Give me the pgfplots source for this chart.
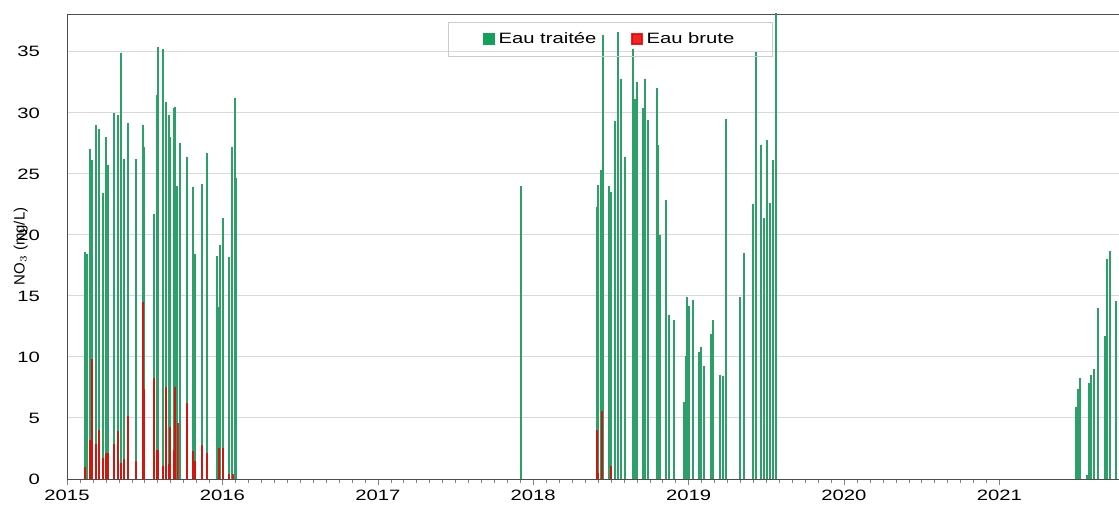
\documentclass[border=0pt]{standalone}
\usepackage{pgfplots}
\pgfplotsset{compat=1.18}
\usepackage{fontspec}
\setmainfont{Liberation Sans}[FakeStretch=1.35]
\newfontfamily\plainfont{Liberation Sans}
\usetikzlibrary{calc}

\definecolor{traitee}{RGB}{20,160,90}
\definecolor{traiteebar}{RGB}{45,160,105}
\definecolor{brute}{RGB}{235,0,0}

\begin{document}
\begin{tikzpicture}
\begin{axis}[
  scale only axis,
  width=526pt, height=232.5pt,
  xmin=2015, xmax=2021.77,
  ymin=0, ymax=38.1,
  axis line style={draw=black!70},
  xtick={2015,2016,2017,2018,2019,2020,2021},
  xticklabels={2015,2016,2017,2018,2019,2020,2021},
  minor x tick num=11,
  xtick pos=lower,
  tick align=outside,
  major tick length=3pt, minor tick length=2pt,
  ytick={0,5,...,35},
  ytick style={draw=none},
  ymajorgrids, grid style={draw=black!15, line width=0.5pt},
  tick label style={font=\fontsize{7.5}{9}\selectfont},
  /pgf/number format/assume math mode=true,
  yticklabel style={xshift=-7pt},
  xticklabel style={yshift=1pt},
  ylabel={\plainfont NO$_3$ (mg/L)},
  ylabel style={font=\fontsize{7.5}{9}\selectfont, at={(axis description cs:-0.044,0.5)}, anchor=center},
  legend columns=2,
  legend style={at={(axis description cs:0.5166,1)}, anchor=north, yshift=-4pt,
    draw=black!20, fill=none, font=\fontsize{7.5}{9}\selectfont,
    inner xsep=17pt, inner ysep=3pt,
    /tikz/every even column/.append style={column sep=15pt}},
]
% Eau traitee
\addplot[ycomb, draw=traiteebar, line width=1pt, mark=none,
  legend image code/.code={\fill[traitee] (0pt,-2.5pt) rectangle (5pt,2.5pt);}]
coordinates {
(2015.113,18.6)(2015.128,18.4)(2015.149,27.0)(2015.162,26.1)(2015.186,29.0)
(2015.207,28.7)(2015.231,23.4)(2015.252,28.0)(2015.267,25.7)(2015.302,30.0)
(2015.325,29.8)(2015.347,34.9)(2015.368,26.2)(2015.392,29.2)(2015.441,26.2)
(2015.492,29.0)(2015.498,27.2)(2015.559,21.7)(2015.578,31.5)(2015.586,35.4)
(2015.617,35.2)(2015.636,30.9)(2015.657,29.8)(2015.666,28.0)(2015.687,30.4)
(2015.698,30.5)(2015.709,24.0)(2015.726,27.5)(2015.775,26.4)(2015.812,23.9)
(2015.826,18.4)(2015.869,24.2)(2015.900,26.7)(2015.964,18.3)(2015.979,14.1)
(2015.987,19.2)(2016.003,21.4)(2016.045,18.2)(2016.060,27.2)(2016.082,31.2)
(2016.088,24.7)
(2017.921,24.0)
(2018.412,22.3)(2018.418,24.1)(2018.437,25.3)(2018.450,36.4)(2018.489,24.0)
(2018.502,23.5)(2018.525,29.3)(2018.549,36.6)(2018.568,32.8)(2018.592,26.4)
(2018.643,35.2)(2018.656,31.1)(2018.665,32.5)(2018.707,30.4)(2018.720,32.8)
(2018.736,29.4)(2018.795,32.0)(2018.804,27.4)(2018.817,20.0)(2018.853,22.9)
(2018.877,13.4)(2018.903,13.0)(2018.971,6.3)(2018.984,10.1)(2018.992,14.9)
(2019.005,14.2)(2019.027,14.7)(2019.066,10.4)(2019.078,10.8)(2019.102,9.3)
(2019.143,11.9)(2019.160,13.0)(2019.203,8.5)(2019.224,8.4)(2019.239,29.5)
(2019.334,14.9)(2019.357,18.5)(2019.415,22.5)(2019.437,35.0)(2019.464,27.4)
(2019.486,21.4)(2019.503,27.8)(2019.522,22.6)(2019.546,26.1)(2019.563,40.0)
(2021.495,5.9)(2021.503,7.4)(2021.518,8.3)(2021.561,0.3)(2021.576,7.9)
(2021.591,8.5)(2021.612,9.0)(2021.636,14.0)(2021.677,11.7)(2021.694,18.0)
(2021.715,18.7)(2021.751,14.6)
};
\addlegendentry{Eau traitée}
% Eau brute
\addplot[ycomb, draw=brute, line width=1pt, mark=none, opacity=0.85,
  legend image code/.code={\fill[brute] (0pt,-2.5pt) rectangle (5pt,2.5pt);}]
coordinates {
(2015.113,1.0)(2015.149,3.2)(2015.162,9.8)(2015.186,2.9)(2015.207,4.0)
(2015.231,1.7)(2015.252,2.1)(2015.267,2.1)(2015.302,2.9)(2015.325,3.9)
(2015.347,1.3)(2015.368,1.6)(2015.392,5.2)(2015.441,1.5)(2015.486,5.5)
(2015.492,14.5)(2015.498,7.4)(2015.559,8.3)(2015.578,2.4)(2015.586,2.4)
(2015.617,1.1)(2015.636,7.5)(2015.657,1.2)(2015.666,4.3)(2015.687,2.4)
(2015.698,7.5)(2015.717,4.6)(2015.775,6.2)(2015.812,2.3)(2015.826,1.5)
(2015.869,2.8)(2015.900,2.1)(2015.979,2.5)(2016.003,2.5)(2016.045,0.4)
(2016.071,0.4)
(2018.412,4.0)(2018.418,0.5)(2018.444,5.6)(2018.502,1.1)
};
\addlegendentry{Eau brute}
\end{axis}
\pgfresetboundingbox
\path[use as bounding box] ($(current axis.south west)+(-33.5pt,-13.5pt)$) rectangle ($(current axis.north east)+(0pt,7pt)$);
\end{tikzpicture}
\end{document}
